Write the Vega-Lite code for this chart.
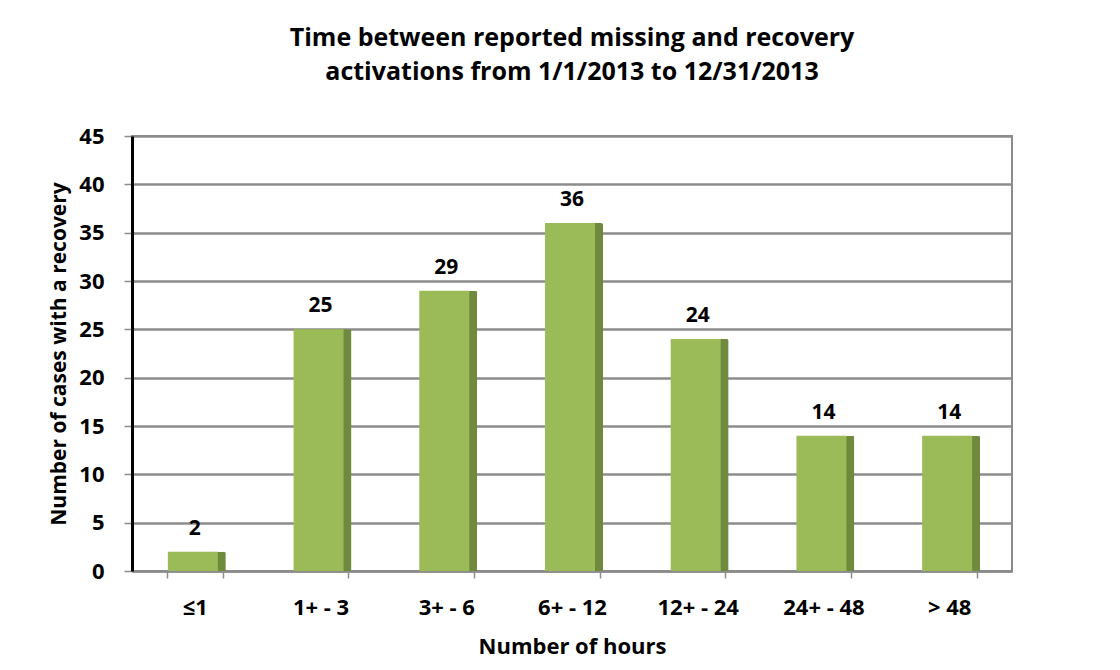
{
  "$schema": "https://vega.github.io/schema/vega-lite/v6.json",
  "autosize": "none",
  "width": 880,
  "height": 435,
  "padding": {"left": 132, "top": 136, "right": 108, "bottom": 99},
  "background": "white",
  "title": {
    "text": ["Time between reported missing and recovery", "activations from 1/1/2013  to 12/31/2013"],
    "font": "Open Sans",
    "fontSize": 25,
    "fontWeight": "bold",
    "color": "#000000",
    "lineHeight": 34,
    "offset": 40,
    "anchor": "middle"
  },
  "config": {
    "view": {"stroke": "#8c8c8c", "strokeWidth": 2},
    "font": "Open Sans"
  },
  "data": {
    "values": [
      {"hours": "≤1", "cases": 2},
      {"hours": "1+ - 3", "cases": 25},
      {"hours": "3+ - 6", "cases": 29},
      {"hours": "6+ - 12", "cases": 36},
      {"hours": "12+ - 24", "cases": 24},
      {"hours": "24+ - 48", "cases": 14},
      {"hours": "> 48", "cases": 14}
    ]
  },
  "encoding": {
    "x": {
      "field": "hours",
      "type": "nominal",
      "sort": null,
      "scale": {"paddingInner": 0.56, "paddingOuter": 0.28},
      "axis": {
        "title": "Number of hours",
        "titleFont": "Open Sans",
        "titleFontSize": 22,
        "titleFontWeight": "bold",
        "titleColor": "#000",
        "titlePadding": 18,
        "labelAngle": 0,
        "labelFont": "Open Sans",
        "labelFontSize": 22,
        "labelFontWeight": "bold",
        "labelColor": "#000",
        "labelPadding": 19,
        "tickBand": "extent",
        "tickColor": "#8c8c8c",
        "tickSize": 7,
        "tickWidth": 1.5,
        "domainColor": "#8c8c8c",
        "domainWidth": 2.5
      }
    },
    "y": {
      "field": "cases",
      "type": "quantitative",
      "scale": {"domain": [0, 45]},
      "axis": {
        "title": "Number of cases with a recovery",
        "titleFont": "Open Sans",
        "titleFontSize": 21,
        "titleFontWeight": "bold",
        "titleColor": "#000",
        "titlePadding": 9,
        "values": [0, 5, 10, 15, 20, 25, 30, 35, 40, 45],
        "labelFont": "Open Sans",
        "labelFontSize": 22,
        "labelFontWeight": "bold",
        "labelColor": "#000",
        "labelPadding": 20,
        "tickColor": "#8c8c8c",
        "tickSize": 8,
        "tickWidth": 1.5,
        "domainColor": "#000000",
        "domainWidth": 3,
        "grid": true,
        "gridColor": "#8c8c8c",
        "gridWidth": 2.5
      }
    }
  },
  "layer": [
    {
      "mark": {"type": "bar", "color": "#6f8a3c", "size": 56, "xOffset": 3, "cornerRadiusTopRight": 2}
    },
    {
      "mark": {"type": "bar", "color": "#9bbb59", "size": 50, "xOffset": -2}
    },
    {
      "mark": {"type": "text", "dy": -23, "font": "Open Sans", "fontSize": 21, "fontWeight": "bold", "color": "#000"},
      "encoding": {"text": {"field": "cases", "type": "quantitative"}}
    }
  ]
}
